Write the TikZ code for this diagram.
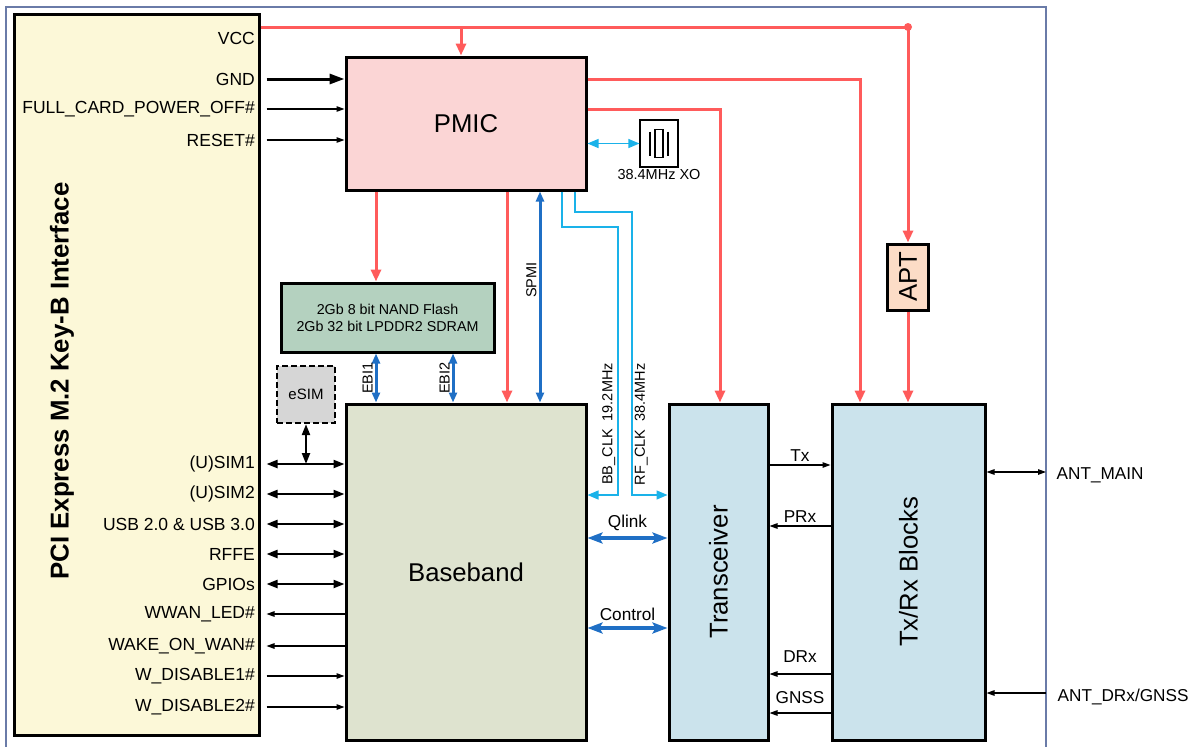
\documentclass[tikz,border=0pt]{standalone}
\usepackage{fontspec}
\usepackage{graphicx}
\setmainfont{Liberation Sans}
\usetikzlibrary{arrows.meta}

\definecolor{pcifill}{HTML}{FCF8D8}
\definecolor{pmicfill}{HTML}{FBD5D5}
\definecolor{nandfill}{HTML}{B4D1BF}
\definecolor{esimfill}{HTML}{D6D6D6}
\definecolor{bbfill}{HTML}{DEE3CF}
\definecolor{rffill}{HTML}{CBE3EC}
\definecolor{aptfill}{HTML}{FCDCC6}
\definecolor{pwrred}{HTML}{FF5B5B}
\definecolor{busblue}{HTML}{1F6FC5}
\definecolor{clkcyan}{HTML}{1AB2E9}
\definecolor{framecol}{HTML}{6A7BA8}

\begin{document}
\begin{tikzpicture}[x=1pt,y=-1pt,
  blk/.style={draw,line width=3pt,inner sep=0pt,font=\fontsize{25.7}{28}\selectfont},
  lbl/.style={anchor=east,inner sep=1pt,font=\fontsize{17.5}{20}\selectfont},
  mid/.style={inner sep=1pt,font=\fontsize{17.2}{20}\selectfont},
  sml/.style={inner sep=2pt,font=\fontsize{14.5}{17}\selectfont},
  pwr/.style={draw=pwrred,line width=3pt,-{Triangle[length=12pt,width=10pt]}},
  pwrl/.style={draw=pwrred,line width=3pt},
  bus/.style={draw=busblue,line width=3pt,{Triangle[length=10pt,width=8pt]}-{Triangle[length=10pt,width=8pt]}},
  busw/.style={draw=busblue,line width=4pt,{Stealth[length=15pt,width=11pt,inset=3pt]}-{Stealth[length=15pt,width=11pt,inset=3pt]}},
  clk/.style={draw=clkcyan,line width=1.3pt,-{Triangle[length=11pt,width=9pt]}},
  clkd/.style={draw=clkcyan,line width=1.3pt,{Triangle[length=11pt,width=9pt]}-{Triangle[length=11pt,width=9pt]}},
  gndl/.style={line width=3pt,-{Triangle[length=15pt,width=10pt]}},
  sigw/.style={line width=2.2pt,{Triangle[length=11pt,width=8pt]}-{Triangle[length=11pt,width=8pt]}},
  sigin/.style={line width=1.2pt,-{Triangle[length=8pt,width=5.5pt]}},
  sigout/.style={line width=1.2pt,{Triangle[length=8pt,width=5.5pt]}-},
  sigio/.style={line width=1.2pt,{Triangle[length=8pt,width=5.5pt]}-{Triangle[length=8pt,width=5.5pt]}}]

\useasboundingbox (0,0) rectangle (1197,747);
\draw[framecol,line width=1.5pt] (6,760) -- (6,7) -- (1046,7) -- (1046,760);
\coordinate (frameNE) at (1046,7);

\node[blk,fill=pcifill,minimum width=245pt,minimum height=721pt] (pci) at (136.5,375) {};
\node[rotate=90,font=\bfseries\fontsize{25.8}{28}\selectfont] (pcititle) at (62,381) {PCI Express M.2 Key-B Interface};
\node[blk,fill=pmicfill,minimum width=240pt,minimum height=133pt] (pmic) at (466,123.5) {PMIC};
\node[draw,line width=1.2pt,minimum width=38pt,minimum height=47pt,label={[sml,label distance=0pt]below:38.4MHz XO}] (xo) at (659,143.5) {};
\node[blk,fill=nandfill,minimum width=213pt,minimum height=69pt,align=center,font=\fontsize{14.3}{17}\selectfont] (nand) at (387.5,317.5) {2Gb 8 bit NAND Flash\\2Gb 32 bit LPDDR2 SDRAM};
\node[draw,dash pattern=on 6pt off 3pt,line width=2.3pt,fill=esimfill,minimum width=58pt,minimum height=57pt,font=\fontsize{15}{17}\selectfont] (esim) at (306,394.5) {eSIM};
\node[blk,fill=bbfill,minimum width=240pt,minimum height=336pt] (bb) at (466,572) {Baseband};
\node[blk,fill=rffill,minimum width=99pt,minimum height=336pt] (trx) at (718.5,572) {\rotatebox{90}{Transceiver}};
\node[blk,fill=rffill,minimum width=153pt,minimum height=336pt] (txrx) at (908.5,572) {\rotatebox{90}{Tx/Rx Blocks}};
\node[blk,fill=aptfill,minimum width=41pt,minimum height=66pt] (apt) at (908,277) {\rotatebox{90}{APT}};
\node[circle,fill=pwrred,inner sep=0pt,minimum size=8pt] (dot) at (908,27) {};

\begin{scope}[shift={(xo.center)}]
\draw[line width=1.2pt] (-9,-12) -- (-9,12) (9,-12) -- (9,12);
\draw[line width=1.2pt] (-4,-14) rectangle (4,14);
\end{scope}

\node[lbl] (vcc) at (256,38) {VCC};
\foreach \n/\txt/\y/\sty/\dst in {gnd/GND/79/gndl/pmic, full/FULL\_CARD\_POWER\_OFF\#/109/sigin/pmic, reset/RESET\#/140/sigin/pmic, sim1/(U)SIM1/464/sigw/bb, sim2/(U)SIM2/494/sigw/bb, usb/USB 2.0 \& USB 3.0/524/sigw/bb, rffe/RFFE/554/sigw/bb, gpio/GPIOs/584/sigw/bb, led/WWAN\_LED\#/614/sigout/bb, wake/WAKE\_ON\_WAN\#/646/sigout/bb, dis1/W\_DISABLE1\#/676/sigin/bb, dis2/W\_DISABLE2\#/707/sigin/bb}
{
  \node[lbl] (\n) at (256,\y) {\txt};
  \draw[\sty,shorten <=6pt] (pci.east |- \n) -- (\dst.west |- \n);
}
\draw[sigw] (esim.south) -- (esim.south |- sim1);

\draw[pwrl] (pci.east |- dot) -- (dot.center);
\draw[pwr] ([xshift=-5pt]pmic.north |- dot) -- ([xshift=-5pt]pmic.north);
\draw[pwr] (dot.center) -- (apt.north);
\draw[pwr] (apt.south) -- (apt.south |- txrx.north);
\draw[pwr] (pmic.east |- 0,79) -| (860,0 |- txrx.north);
\draw[pwr] (pmic.east |- 0,109) -| (720,0 |- trx.north);
\draw[pwr] (376,0 |- pmic.south) -- (376,0 |- nand.north);
\draw[pwr] (507,0 |- pmic.south) -- (507,0 |- bb.north);

\draw[bus] (540,0 |- pmic.south) -- node[sml,rotate=90,anchor=south,pos=0.42] (spmi) {SPMI} (540,0 |- bb.north);
\draw[bus] (376,0 |- nand.south) -- node[sml,rotate=90,anchor=south] (ebi1) {EBI1} (376,0 |- bb.north);
\draw[bus] (453,0 |- nand.south) -- node[sml,rotate=90,anchor=south] (ebi2) {EBI2} (453,0 |- bb.north);

\draw[clkd] (pmic.east |- xo) -- (xo.west);
\draw[clk] (562,0 |- pmic.south) -- (562,227) -- (618,227) -- node[sml,rotate=90,anchor=south,pos=0.735] (bbclk) {BB\_CLK\ \ 19.2MHz} (618,495) -- (bb.east |- 0,495);
\draw[clk] (575,0 |- pmic.south) -- (575,212) -- (632,212) -- node[sml,rotate=90,anchor=north,pos=0.75] (rfclk) {RF\_CLK\ \ 38.4MHz} (632,495) -- (trx.west |- 0,495);

\draw[busw] (bb.east |- 0,538) -- node[mid,above=4pt] (qlink) {Qlink} (trx.west |- 0,538);
\draw[busw] (bb.east |- 0,628) -- node[mid,above=4pt] (ctrl) {Control} (trx.west |- 0,628);

\draw[sigin] (trx.east |- 0,465) -- node[mid,above=2pt] (tx) {Tx} (txrx.west |- 0,465);
\draw[sigout] (trx.east |- 0,526) -- node[mid,above=2pt] (prx) {PRx} (txrx.west |- 0,526);
\draw[sigout] (trx.east |- 0,674) -- node[mid,above=10pt] (drx) {DRx} (txrx.west |- 0,674);
\draw[sigout] (trx.east |- 0,713) -- node[mid,above=8pt] (gnss) {GNSS} (txrx.west |- 0,713);

\draw[sigio] (txrx.east |- 0,472) -- (frameNE |- 0,472) node[mid,anchor=west,xshift=9pt,yshift=-3pt] (antmain) {ANT\_MAIN};
\draw[sigin] (frameNE |- 0,693) node[mid,anchor=west,xshift=10pt,yshift=-4pt] (antdrx) {ANT\_DRx/GNSS} -- (txrx.east |- 0,693);

\end{tikzpicture}
\end{document}
